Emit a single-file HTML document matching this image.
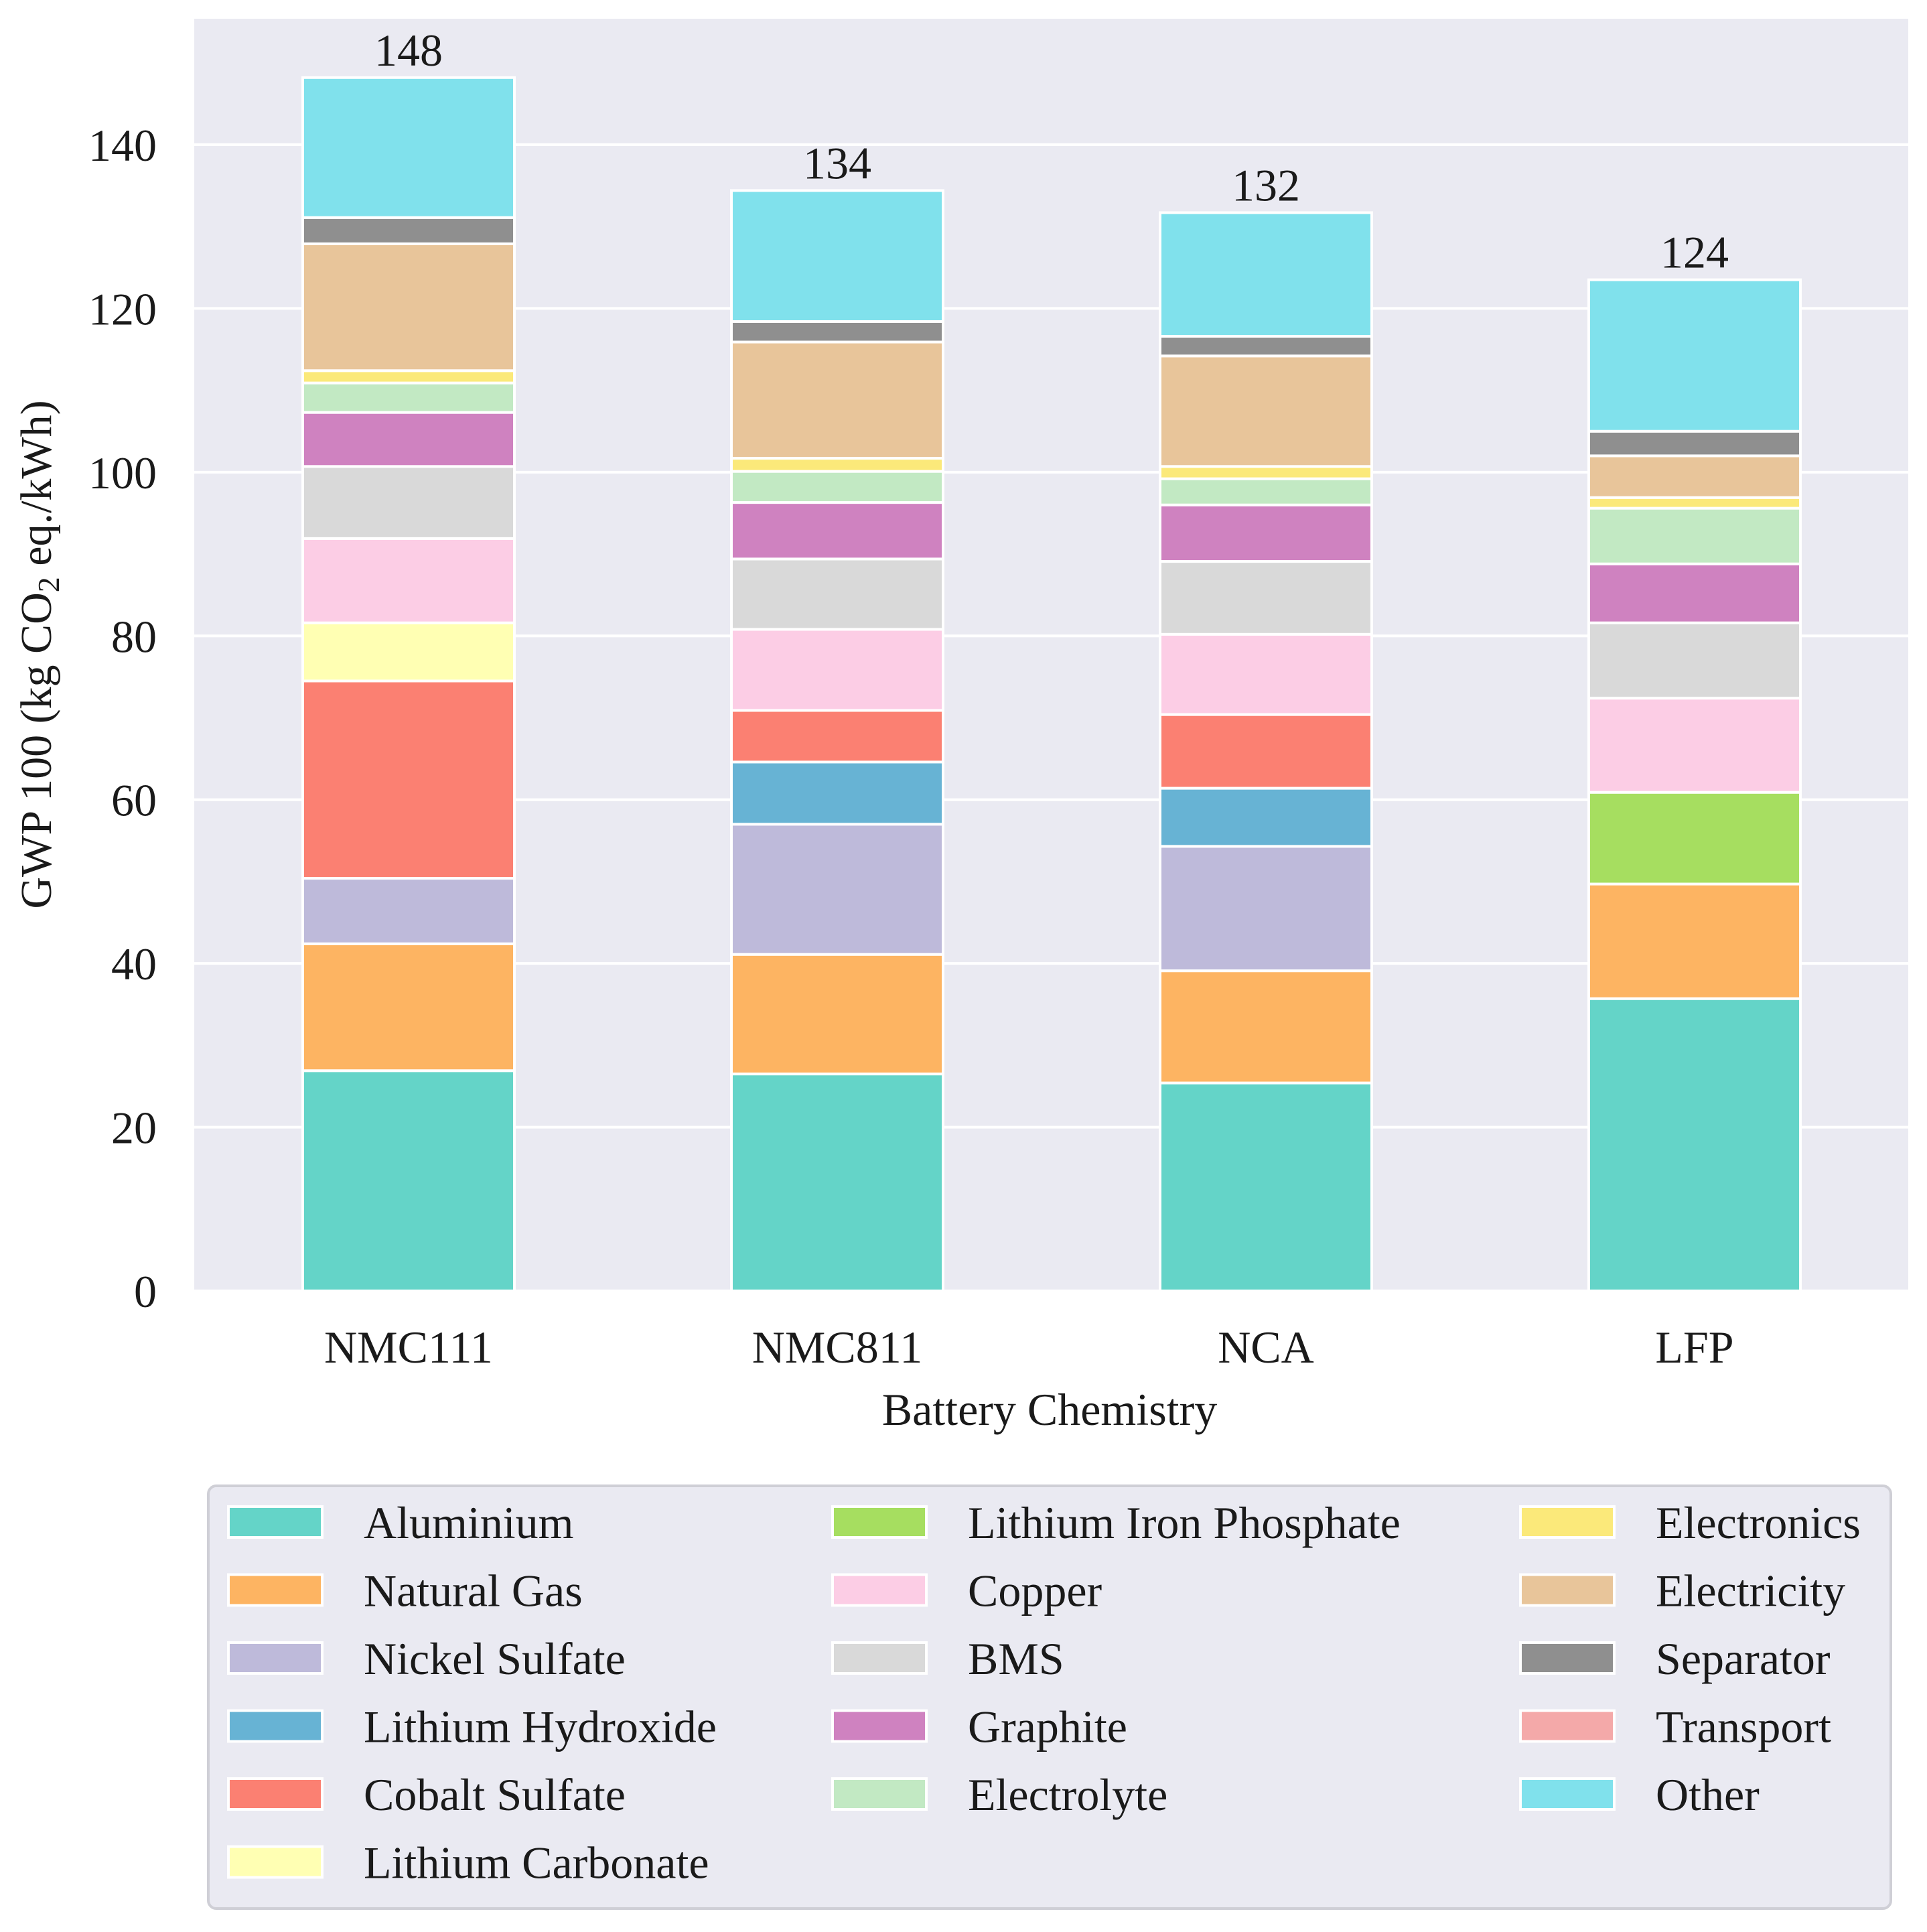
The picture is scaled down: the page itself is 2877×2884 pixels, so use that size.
<!DOCTYPE html>
<html><head><meta charset="utf-8"><style>
html,body{margin:0;padding:0;background:#fff;}
svg{display:block;font-family:"Liberation Serif","DejaVu Serif",serif;}
</style></head><body>
<svg id="chart" width="2877" height="2884" viewBox="0 0 2877 2884" xmlns="http://www.w3.org/2000/svg">
<rect x="290" y="28" width="2559" height="1899" fill="#eaeaf2"/>
<g id="grid"></g><g id="bars"></g><g id="labels"></g><g id="legend"></g>
<text transform="translate(76,977) rotate(-90)" text-anchor="middle" font-size="66" fill="#1a1a1a">GWP 100 (kg CO<tspan font-size="46" dy="12">2</tspan><tspan dy="-12"> eq./kWh)</tspan></text>
<text x="1567" y="2127" text-anchor="middle" font-size="68" fill="#1a1a1a">Battery Chemistry</text>
</svg>
<script>
const categories = ["NMC111","NMC811","NCA","LFP"];
const seriesNames = ["Aluminium","Natural Gas","Nickel Sulfate","Lithium Hydroxide","Cobalt Sulfate","Lithium Carbonate","Lithium Iron Phosphate","Copper","BMS","Graphite","Electrolyte","Electronics","Electricity","Separator","Transport","Other"];
const seriesColors = ["#64d4c8","#fdb462","#bebada","#67b3d4","#fb8072","#ffffb3","#a6de60","#fccde5","#d9d9d9","#cf82c0","#c2e9c3","#fbe97a","#e8c59a","#8f8f8f","#f4a9a9","#80e1ec"];
const valuesNMC111 = [26.9,15.5,8.0,0,24.1,7.1,0,10.3,8.8,6.6,3.6,1.5,15.5,3.2,0,17.1];
const valuesNMC811 = [26.5,14.6,15.9,7.6,6.3,0,0,9.9,8.6,6.9,3.8,1.6,14.2,2.5,0,16.0];
const valuesNCA = [25.4,13.7,15.2,7.1,9.0,0,0,9.8,8.9,6.9,3.2,1.5,13.5,2.4,0,15.1];
const valuesLFP = [35.7,14.0,0,0,0,0,11.2,11.5,9.2,7.2,6.8,1.3,5.1,3.0,0,18.5];
const totals = ["148","134","132","124"];
const yTicks = [0,20,40,60,80,100,120,140];

const NS="http://www.w3.org/2000/svg";
const allValues=[valuesNMC111,valuesNMC811,valuesNCA,valuesLFP];
const y0=1927, pxPerUnit=(1927-216)/140;
function yScale(v){return y0-v*pxPerUnit;}
function xScale(i){return 290+320+640*i;}
function mk(tag,attrs,parent){const e=document.createElementNS(NS,tag);for(const k in attrs)e.setAttribute(k,attrs[k]);parent.appendChild(e);return e;}
const grid=document.getElementById('grid'), bars=document.getElementById('bars'), labels=document.getElementById('labels'), legend=document.getElementById('legend');
yTicks.forEach(t=>{
  const l=mk('line',{x1:290,x2:2849,y1:yScale(t),y2:yScale(t),stroke:'#fff','stroke-width':4},grid);
  
  
  const tx=mk('text',{x:234,y:yScale(t)+24,'text-anchor':'end','font-size':68,fill:'#1a1a1a'},labels);
  tx.textContent=t;
  
  
});
const bw=316;
categories.forEach((c,i)=>{
  let cum=0;
  const vals=allValues[i];
  vals.forEach((v,s)=>{
    if(v<=0)return;
    const yt=yScale(cum+v), yb=yScale(cum);
    const r=mk('rect',{x:xScale(i)-bw/2,y:yt,width:bw,height:yb-yt,fill:seriesColors[s],stroke:'#fff','stroke-width':4},bars);
    
    
    cum+=v;
  });
  const tt=mk('text',{x:xScale(i),y:yScale(cum)-18,'text-anchor':'middle','font-size':68,fill:'#1a1a1a'},labels);
  tt.textContent=totals[i];
  
  
  const xt=mk('text',{x:xScale(i),y:2034,'text-anchor':'middle','font-size':68,fill:'#1a1a1a'},labels);
  xt.textContent=c;
  
  
});
const lb=mk('rect',{x:311,y:2218,width:2512,height:631,rx:12,fill:'#eaeaf2',stroke:'#cfcfd6','stroke-width':4},legend);


const colX=[341,1243,2270], rowsPerCol=[6,5,5];
let idx=0;
colX.forEach((cx,ci)=>{
  for(let r=0;r<rowsPerCol[ci];r++){
    const s=idx++;
    const cy=2272+r*101.5;
    const sw=mk('rect',{x:cx,y:cy-23,width:140,height:46,fill:seriesColors[s],stroke:'#fff','stroke-width':4},legend);
    
    
    const t=mk('text',{x:cx+202,y:cy+24,'font-size':68,fill:'#1a1a1a'},legend);
    t.textContent=seriesNames[s];
    
    
  }
});
</script>
</body></html>
